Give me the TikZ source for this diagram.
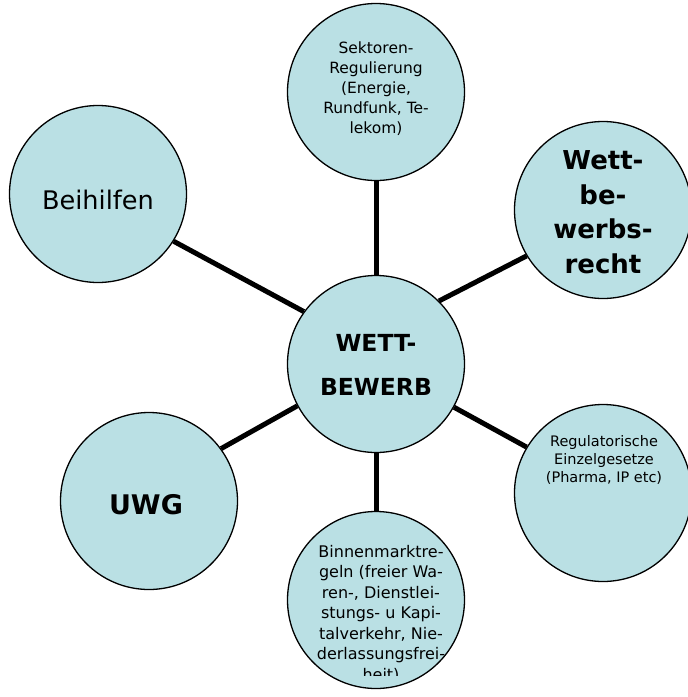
\documentclass[tikz,border=0pt]{standalone}
\usepackage{fontspec}
\setmainfont{DejaVu Sans}
\definecolor{circfill}{RGB}{186,224,228}
\begin{document}
\begin{tikzpicture}[x=1pt,y=-1pt,
  bubble/.style={circle,draw=black,line width=1.3pt,fill=circfill,minimum size=177pt,inner sep=0pt},
  link/.style={line width=5pt,black},
  lbl/.style={align=center,inner sep=0pt,anchor=base},
  small/.style={font=\fontsize{15.5}{20}\selectfont},
  smaller/.style={font=\fontsize{14.5}{18}\selectfont},
  big/.style={font=\bfseries\fontsize{26}{34.5}\selectfont}
]
\useasboundingbox (0,0) rectangle (688,697);
\node[bubble] (c) at (376,364) {};
\node[bubble] (t) at (376,92) {};
\node[bubble] (w) at (603,210) {};
\node[bubble] (reg) at (603,493) {};
\node[bubble] (b) at (376,600) {};
\node[bubble] (uwg) at (149,501) {};
\node[bubble] (beih) at (98,194) {};

\draw[link] (c.90) -- (t.270);
\draw[link] (c.45) -- (w.211);
\draw[link] (c.-29) -- (reg.149);
\draw[link] (c.270) -- (b.90);
\draw[link] (c.208) -- (uwg.36);
\draw[link] (c.144) -- (beih.-32);

\node[lbl,font=\bfseries\fontsize{23.5}{44}\selectfont] (cT) at (376,395) {WETT-\\BEWERB};
\node[lbl,small] (tT) at (376,133) {Sektoren-\\Regulierung\\(Energie,\\Rundfunk, Te-\\lekom)};
\node[lbl,big] (wT) at (603,273) {Wett-\\be-\\werbs-\\recht};
\node[lbl,smaller] (regT) at (604,482) {Regulatorische\\Einzelgesetze\\(Pharma, IP etc)};
\node[lbl,font=\fontsize{25.6}{30}\selectfont] (beihT) at (98,209) {Beihilfen};
\node[lbl,font=\bfseries\fontsize{27}{30}\selectfont] (uwgT) at (146,514) {UWG};
\begin{scope}
\clip (280,500) rectangle (480,675);
\node[lbl,font=\fontsize{16}{20.5}\selectfont] (bT) at (381,680) {Binnenmarktre-\\geln (freier Wa-\\ren-, Dienstlei-\\stungs- u Kapi-\\talverkehr, Nie-\\derlassungsfrei-\\heit)};
\end{scope}
\end{tikzpicture}
\end{document}
